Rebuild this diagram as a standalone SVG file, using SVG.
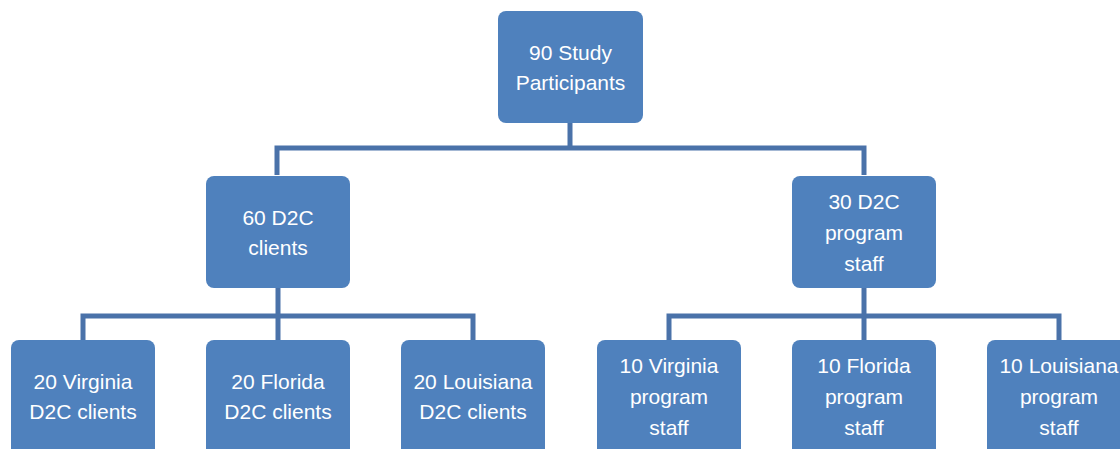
<svg xmlns="http://www.w3.org/2000/svg" width="1120" height="449" viewBox="0 0 1120 449">
  <style>
    .box { fill: #4F81BD; }
    .lbl { fill: #FFFFFF; font-family: "Liberation Sans", Arial, sans-serif; font-size: 21px; text-anchor: middle; }
    .wire { fill: none; stroke: #4A72A9; stroke-width: 5; }
  </style>
  <rect width="1120" height="449" fill="#FFFFFF"/>

  <!-- connectors -->
  <g id="connectors">
    <path class="wire" d="M570 123 V148 M277 175 V148 H864 V175"/>
    <path class="wire" d="M278 288 V316 M83 340 V316 H473 V340 M278 316 V340"/>
    <path class="wire" d="M864 288 V316 M669 340 V316 H1059 V340 M864 316 V340"/>
  </g>

  <!-- root -->
  <g id="n-participants">
    <rect class="box" x="498" y="11" width="145" height="112" rx="8"/>
    <text class="lbl" x="570.5" y="60">90 Study</text>
    <text class="lbl" x="570.5" y="90">Participants</text>
  </g>

  <!-- second level -->
  <g id="n-clients">
    <rect class="box" x="206" y="176" width="144" height="112" rx="8"/>
    <text class="lbl" x="278" y="225">60 D2C</text>
    <text class="lbl" x="278" y="255">clients</text>
  </g>
  <g id="n-staff">
    <rect class="box" x="792" y="176" width="144" height="112" rx="8"/>
    <text class="lbl" x="864" y="209">30 D2C</text>
    <text class="lbl" x="864" y="240">program</text>
    <text class="lbl" x="864" y="271">staff</text>
  </g>

  <!-- third level: clients by state -->
  <g id="n-va-clients">
    <rect class="box" x="11" y="340" width="144" height="120" rx="8"/>
    <text class="lbl" x="83" y="389">20 Virginia</text>
    <text class="lbl" x="83" y="419">D2C clients</text>
  </g>
  <g id="n-fl-clients">
    <rect class="box" x="206" y="340" width="144" height="120" rx="8"/>
    <text class="lbl" x="278" y="389">20 Florida</text>
    <text class="lbl" x="278" y="419">D2C clients</text>
  </g>
  <g id="n-la-clients">
    <rect class="box" x="401" y="340" width="144" height="120" rx="8"/>
    <text class="lbl" x="473" y="389">20 Louisiana</text>
    <text class="lbl" x="473" y="419">D2C clients</text>
  </g>

  <!-- third level: staff by state -->
  <g id="n-va-staff">
    <rect class="box" x="597" y="340" width="144" height="120" rx="8"/>
    <text class="lbl" x="669" y="373">10 Virginia</text>
    <text class="lbl" x="669" y="404">program</text>
    <text class="lbl" x="669" y="435">staff</text>
  </g>
  <g id="n-fl-staff">
    <rect class="box" x="792" y="340" width="144" height="120" rx="8"/>
    <text class="lbl" x="864" y="373">10 Florida</text>
    <text class="lbl" x="864" y="404">program</text>
    <text class="lbl" x="864" y="435">staff</text>
  </g>
  <g id="n-la-staff">
    <rect class="box" x="987" y="340" width="144" height="120" rx="8"/>
    <text class="lbl" x="1059" y="373">10 Louisiana</text>
    <text class="lbl" x="1059" y="404">program</text>
    <text class="lbl" x="1059" y="435">staff</text>
  </g>
</svg>
